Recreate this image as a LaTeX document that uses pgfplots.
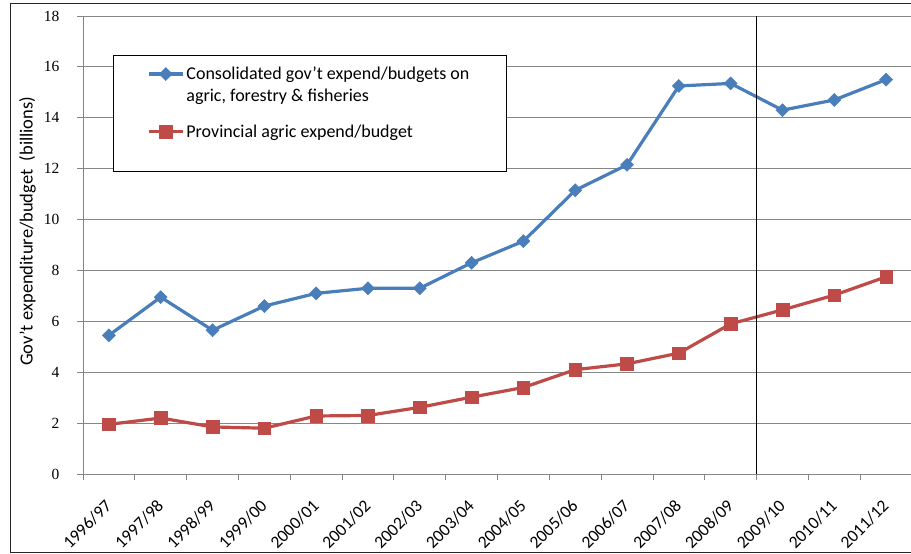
\documentclass[border=0pt]{standalone}
\usepackage{pgfplots}
\pgfplotsset{compat=1.18}
\usepackage{fontspec}
\setmainfont{Carlito}
\newfontfamily\numfont{Liberation Serif}

\definecolor{serblue}{HTML}{4A7EBB}
\definecolor{serred}{HTML}{BE4B48}
\definecolor{gridgray}{RGB}{134,134,134}

% x = category centre, cons = consolidated gov't, prov = provincial agric
\pgfplotstableread{
x    cons   prov
0.5  5.45   1.95
1.5  6.95   2.20
2.5  5.65   1.85
3.5  6.60   1.80
4.5  7.10   2.28
5.5  7.30   2.30
6.5  7.30   2.62
7.5  8.30   3.02
8.5  9.15   3.40
9.5  11.15  4.10
10.5 12.15  4.33
11.5 15.25  4.75
12.5 15.35  5.90
13.5 14.30  6.45
14.5 14.70  7.03
15.5 15.50  7.75
}\budget

\begin{document}
\begin{tikzpicture}
\path[use as bounding box] (0,0) rectangle (911pt,554pt);
\draw[black!85, line width=1pt] (10pt,1.5pt) rectangle (925pt,550pt);
\begin{axis}[
  at={(83pt,80pt)}, anchor=south west,
  scale only axis, width=829pt, height=458pt,
  xmin=0, xmax=16, ymin=0, ymax=18,
  axis x line=bottom, axis y line=left,
  axis line style={gridgray, line width=0.8pt, -},
  tick align=outside, major tick length=6pt,
  tick style={gridgray, line width=0.8pt},
  ytick={0,2,...,18},
  ymajorgrids, major grid style={gridgray, line width=0.8pt},
  yticklabel style={font=\numfont\fontsize{15.5}{15.5}\selectfont, xshift=-14pt},
  y tick label style={/pgf/number format/assume math mode=true},
  xtick={0,1,...,16}, xticklabels={},
  extra x ticks={0.5,1.5,...,15.5},
  extra x tick labels={1996/97,1997/98,1998/99,1999/00,2000/01,2001/02,2002/03,2003/04,2004/05,2005/06,2006/07,2007/08,2008/09,2009/10,2010/11,2011/12},
  extra x tick style={major tick length=0pt, grid=none},
  xticklabel style={rotate=45, anchor=east, xshift=-17.5pt, yshift=-20.5pt, font=\fontsize{17.5}{17.5}\selectfont},
  ylabel={Gov't expenditure/budget\ \ (billions)},
  ylabel style={at={(axis description cs:-0.067,0.53)}, anchor=center, font=\fontsize{18.5}{18.5}\selectfont},
  legend style={at={(0.036,0.915)}, anchor=north west, draw=black, line width=0.8pt,
    font=\fontsize{18}{22}\selectfont, inner xsep=34pt, inner ysep=9.5pt,
    nodes={inner sep=2pt, text depth=}, cells={anchor=base west}, row sep=16pt},
  legend image code/.code={\draw[mark repeat=2, mark phase=2] plot coordinates {(0pt,5.5pt) (17pt,5.5pt) (34pt,5.5pt)};},
]
\addplot[serblue, line width=3.2pt, mark=square*, mark size=4.6pt,
  mark options={solid, rotate=45, fill=serblue, draw=serblue, line width=0.5pt}]
  table[x=x, y=cons] {\budget};
\addlegendentry{\parbox[t]{284pt}{\mbox{Consolidated gov't expend/budgets on}\\\mbox{agric, forestry \& fisheries}}}
\addplot[serred, line width=3.2pt, mark=square*, mark size=6.3pt,
  mark options={solid, fill=serred, draw=serred, line width=0.5pt}]
  table[x=x, y=prov] {\budget};
\addlegendentry{\raisebox{0pt}[\height][22.5pt]{Provincial agric expend/budget}}
\addplot[black, line width=0.9pt, forget plot] coordinates {(13,0) (13,18)};
\end{axis}
\end{tikzpicture}
\end{document}
